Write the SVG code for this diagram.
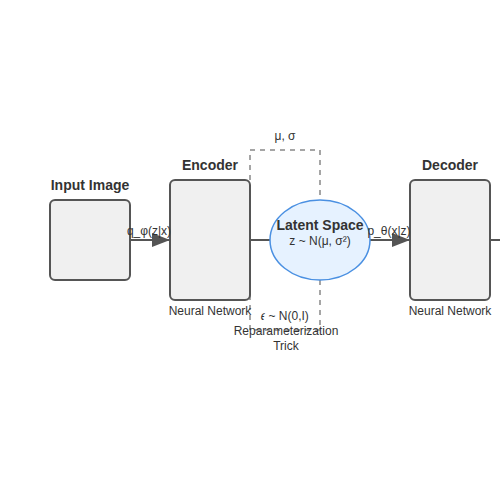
<svg xmlns="http://www.w3.org/2000/svg" width="500" height="500" viewBox="0 0 500 500">
<style>
.box{fill:#f0f0f0;stroke:#555;stroke-width:2}
.title{font-family:"Liberation Sans",Arial,sans-serif;font-size:14px;font-weight:bold;fill:#333;text-anchor:middle}
.lbl{font-family:"Liberation Sans",Arial,sans-serif;font-size:12px;fill:#333;text-anchor:middle}
.edge{stroke:#555;stroke-width:2;fill:none}
</style>
<defs>
<marker id="arr" markerWidth="18" markerHeight="14" refX="18" refY="7" orient="auto" markerUnits="userSpaceOnUse" viewBox="0 0 18 14">
<path d="M0,0 L18,7 L0,14 Z" fill="#555"/>
</marker>
</defs>
<rect width="500" height="500" fill="#fff"/>
<g id="reparam">
<rect x="250" y="150" width="70" height="180" fill="none" stroke="#888" stroke-width="1.5" stroke-dasharray="5,5"/>
</g>
<g id="connectors">
<line class="edge" x1="130" y1="240" x2="170" y2="240" marker-end="url(#arr)"/>
<line class="edge" x1="250" y1="240" x2="270" y2="240"/>
<line class="edge" x1="370" y1="240" x2="410" y2="240" marker-end="url(#arr)"/>
<line class="edge" x1="490" y1="240" x2="500" y2="240"/>
</g>
<g id="input">
<rect class="box" x="50" y="200" width="80" height="80" rx="5"/>
<text class="title" x="90" y="190">Input Image</text>
</g>
<g id="encoder">
<rect class="box" x="170" y="180" width="80" height="120" rx="5"/>
<text class="title" x="210" y="170">Encoder</text>
<text class="lbl" x="210" y="315">Neural Network</text>
</g>
<g id="latent">
<ellipse cx="320" cy="240" rx="50" ry="40" fill="#e6f2ff" stroke="#4a90e2" stroke-width="1.5"/>
<text class="title" x="320" y="230">Latent Space</text>
<text class="lbl" x="320" y="245">z ~ N(μ, σ²)</text>
</g>
<g id="decoder">
<rect class="box" x="410" y="180" width="80" height="120" rx="5"/>
<text class="title" x="450" y="170">Decoder</text>
<text class="lbl" x="450" y="315">Neural Network</text>
</g>
<g id="labels">
<text class="lbl" x="149" y="235">q_φ(z|x)</text>
<text class="lbl" x="389" y="235">p_θ(x|z)</text>
<text class="lbl" x="285" y="140">μ, σ</text>
<text class="lbl" x="285" y="320">𝜖 ~ N(0,I)</text>
<text class="lbl" x="286" y="335">Reparameterization</text>
<text class="lbl" x="286" y="350">Trick</text>
</g>
</svg>
